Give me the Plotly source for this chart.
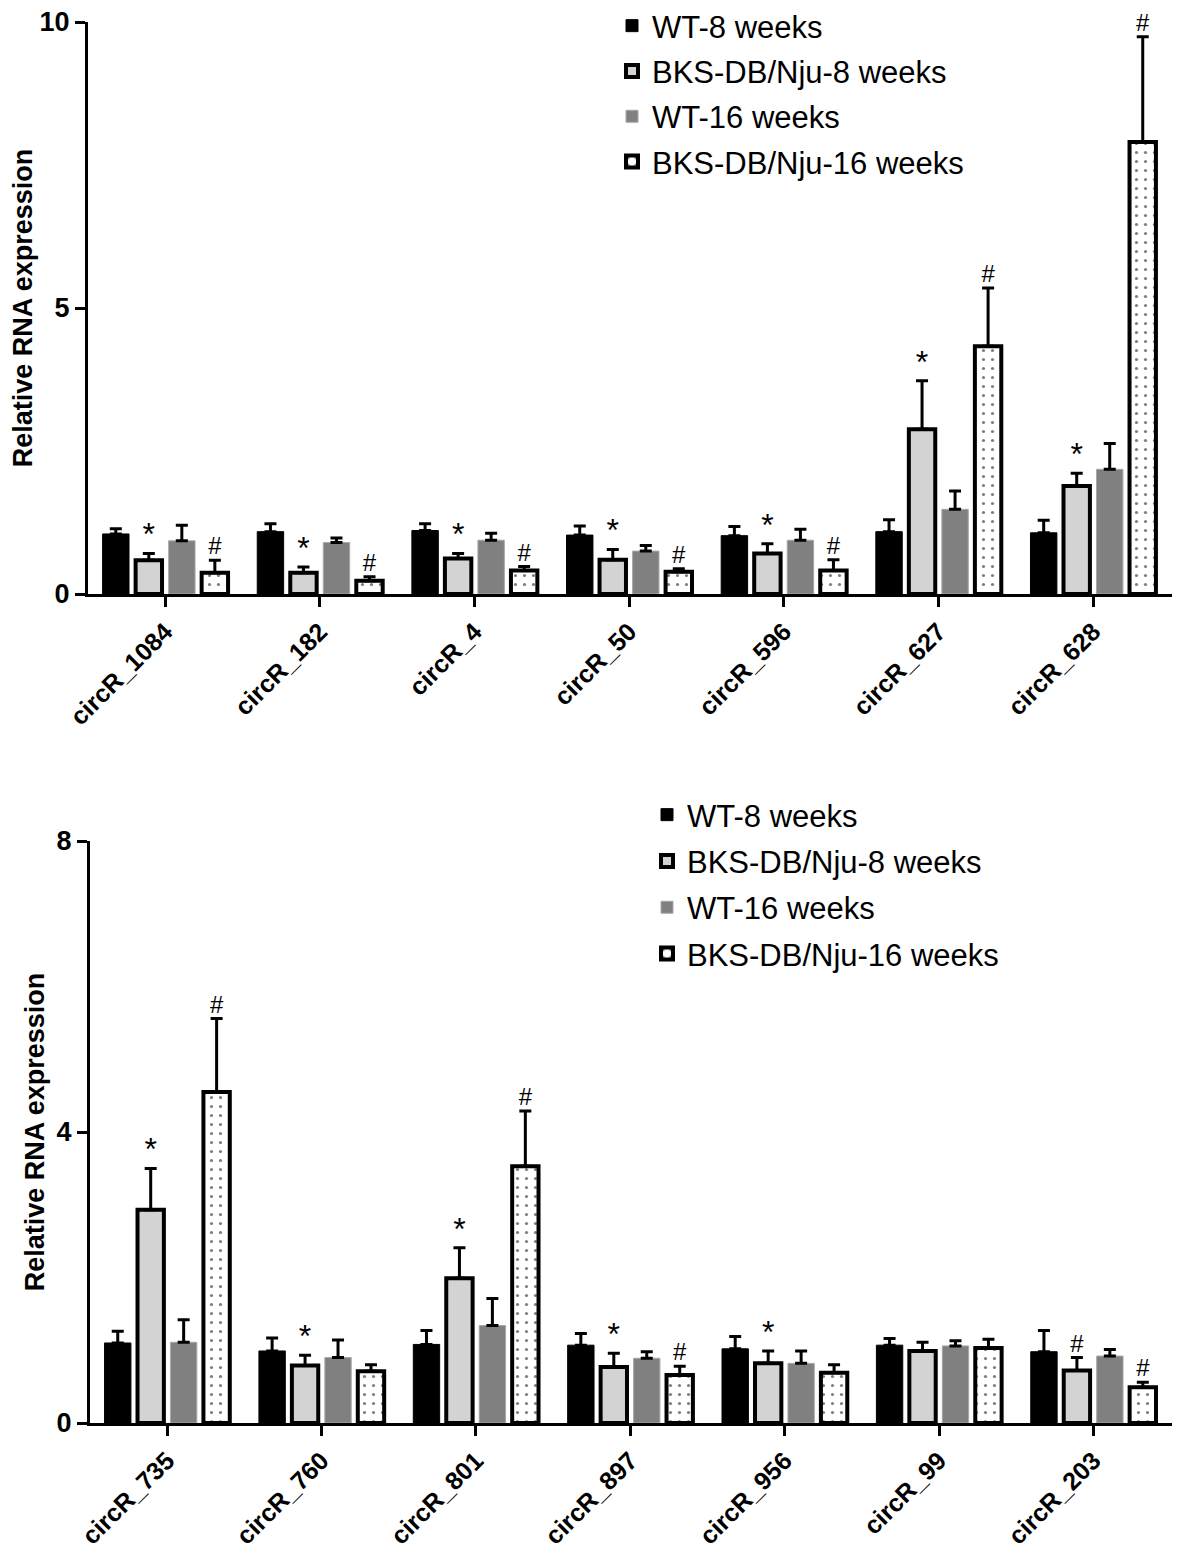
import plotly.graph_objects as go

# ---------------- data ----------------
series_names = ["WT-8 weeks", "BKS-DB/Nju-8 weeks", "WT-16 weeks", "BKS-DB/Nju-16 weeks"]

top_categories = ["circR_1084", "circR_182", "circR_4", "circR_50", "circR_596", "circR_627", "circR_628"]
top_wt8 = [1.05, 1.09, 1.11, 1.03, 1.02, 1.09, 1.07]
top_wt8_err = [0.09, 0.14, 0.12, 0.16, 0.16, 0.21, 0.22]
top_db8 = [0.59, 0.37, 0.62, 0.60, 0.71, 2.88, 1.89]
top_db8_err = [0.12, 0.10, 0.09, 0.18, 0.17, 0.85, 0.22]
top_wt16 = [0.93, 0.90, 0.94, 0.75, 0.94, 1.48, 2.18]
top_wt16_err = [0.27, 0.08, 0.12, 0.10, 0.19, 0.32, 0.45]
top_db16 = [0.37, 0.23, 0.41, 0.39, 0.41, 4.33, 7.90]
top_db16_err = [0.22, 0.07, 0.07, 0.05, 0.19, 1.02, 1.84]
top_db8_marks = ["*", "*", "*", "*", "*", "*", "*"]
top_db16_marks = ["#", "#", "#", "#", "#", "#", "#"]

bot_categories = ["circR_735", "circR_760", "circR_801", "circR_897", "circR_956", "circR_99", "circR_203"]
bot_wt8 = [1.10, 0.99, 1.08, 1.07, 1.02, 1.07, 0.98]
bot_wt8_err = [0.16, 0.18, 0.19, 0.16, 0.17, 0.09, 0.29]
bot_db8 = [2.93, 0.79, 1.99, 0.77, 0.82, 0.99, 0.72]
bot_db8_err = [0.57, 0.14, 0.42, 0.19, 0.17, 0.12, 0.18]
bot_wt16 = [1.11, 0.90, 1.34, 0.89, 0.82, 1.06, 0.92]
bot_wt16_err = [0.31, 0.24, 0.37, 0.09, 0.17, 0.07, 0.09]
bot_db16 = [4.55, 0.71, 3.53, 0.66, 0.69, 1.03, 0.49]
bot_db16_err = [1.01, 0.09, 0.76, 0.12, 0.11, 0.12, 0.07]
bot_db8_marks = ["*", "*", "*", "*", "*", "", "#"]
bot_db16_marks = ["#", "", "#", "#", "", "", "#"]

top_yticks = [0, 5, 10]
bot_yticks = [0, 4, 8]
y_title = "Relative RNA expression"

# ---------------- styles ----------------
FONT = "Liberation Sans, Arial, sans-serif"
MARK_SIZE = {"*": 32, "#": 24, "": 24}
styles = [
    dict(color="black", line=dict(color="black", width=1)),
    dict(color="#d3d3d3", line=dict(color="black", width=4)),
    dict(color="#808080", line=dict(color="#a8a8a8", width=1)),
    dict(color="white", line=dict(color="black", width=4),
         pattern=dict(shape=".", fgcolor="black", bgcolor="white", size=9, solidity=0.1)),
]

fig = go.Figure()


def add_panel(cats, vals, errs, marks, xa, ya, legend, prefix):
    for i, (name, v, e) in enumerate(zip(series_names, vals, errs)):
        fig.add_trace(go.Bar(
            x=cats, y=v, name=name, xaxis=xa, yaxis=ya,
            offsetgroup=str(i), legend=legend, legendgroup=f"{prefix}{i}",
            marker=styles[i],
            error_y=dict(type="data", array=e, arrayminus=[0] * len(e), symmetric=False,
                         color="black", thickness=3, width=6),
        ))
        if marks[i] is not None:
            fig.add_trace(go.Scatter(
                x=cats, y=[a + b for a, b in zip(v, e)], mode="text", text=marks[i],
                textposition="top center",
                textfont=dict(family=FONT, size=[MARK_SIZE[m] for m in marks[i]], color="black"),
                xaxis=xa, yaxis=ya, offsetgroup=str(i), legendgroup=f"{prefix}{i}",
                showlegend=False, hoverinfo="skip", cliponaxis=False,
            ))


add_panel(top_categories, [top_wt8, top_db8, top_wt16, top_db16],
          [top_wt8_err, top_db8_err, top_wt16_err, top_db16_err],
          [None, top_db8_marks, None, top_db16_marks], "x", "y", "legend", "t")
add_panel(bot_categories, [bot_wt8, bot_db8, bot_wt16, bot_db16],
          [bot_wt8_err, bot_db8_err, bot_wt16_err, bot_db16_err],
          [None, bot_db8_marks, None, bot_db16_marks], "x2", "y2", "legend2", "b")

H = 1550.0
W = 1180.0
axis_common = dict(showline=True, linewidth=3, linecolor="black", ticks="outside",
                   tickwidth=3, tickcolor="black", showgrid=False, zeroline=False,
                   automargin=False, ticklabeloverflow="allow")
ytickfont = dict(family=FONT, size=27, color="black", weight="bold")
xtickfont = dict(family=FONT, size=25, color="black", weight="bold")
titlefont = dict(family=FONT, size=27, color="black", weight="bold")
legendfont = dict(family=FONT, size=31, color="black")

fig.update_layout(
    width=1180, height=1550,
    margin=dict(l=0, r=0, t=0, b=0, autoexpand=False),
    paper_bgcolor="white", plot_bgcolor="white",
    barmode="group", bargap=0.146, bargroupgap=0.2,
    scattermode="group", scattergap=0.146,
    xaxis=dict(domain=[80 / W, 1178 / W], anchor="y", type="category", range=[-0.5, 6.6],
               tickangle=-45, ticklen=10, tickfont=xtickfont, **axis_common),
    yaxis=dict(domain=[1 - 586 / H, 1 - 14 / H], anchor="x", range=[0, 10], tickvals=top_yticks,
               ticklen=10, tickfont=ytickfont,
               title=dict(text=y_title, font=titlefont, standoff=5), **axis_common),
    xaxis2=dict(domain=[82 / W, 1178 / W], anchor="y2", type="category", range=[-0.5, 6.6],
                tickangle=-45, ticklen=10, tickfont=xtickfont, **axis_common),
    yaxis2=dict(domain=[1 - 1415 / H, 1 - 833 / H], anchor="x2", range=[0, 8], tickvals=bot_yticks,
                ticklen=10, tickfont=ytickfont,
                title=dict(text=y_title, font=titlefont, standoff=5), **axis_common),
    legend=dict(x=604 / W, y=1 + 9 / H, xanchor="left", yanchor="top", bgcolor="rgba(0,0,0,0)",
                font=legendfont, tracegroupgap=2, traceorder="grouped"),
    legend2=dict(x=639 / W, y=1 - 780 / H, xanchor="left", yanchor="top", bgcolor="rgba(0,0,0,0)",
                 font=legendfont, tracegroupgap=3, traceorder="grouped"),
    showlegend=True,
)

fig.write_html("out.html")
